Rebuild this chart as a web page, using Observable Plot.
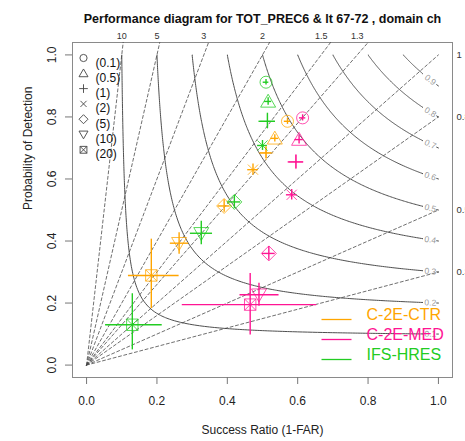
<!DOCTYPE html>
<html><head><meta charset="utf-8">
<script src="https://cdn.jsdelivr.net/npm/d3@7"></script>
<script src="https://cdn.jsdelivr.net/npm/@observablehq/plot@0.6"></script>
<style>body{margin:0;background:#fff} #chart svg{display:block;overflow:visible}</style>
</head><body><div id="chart"></div>
<script>
// ---- data ----
const title = "Performance diagram for TOT_PREC6 & lt 67-72 , domain ch";
const thresholds = ["0.1", "0.5", "1", "2", "5", "10", "20"];
const thresholdLabels = ["(0.1)", "(0.5)", "(1)", "(2)", "(5)", "(10)", "(20)"];
const models = ["C-2E-CTR", "C-2E-MED", "IFS-HRES"];
const modelColors = ["#ffa500", "#ff1493", "#22cc22"];

const ctrSR    = [0.571, 0.535, 0.510, 0.473, 0.391, 0.263, 0.184];
const ctrPOD   = [0.786, 0.731, 0.684, 0.630, 0.513, 0.393, 0.289];
const ctrSRlo  = [0.562, 0.524, 0.494, 0.458, 0.374, 0.238, 0.119];
const ctrSRhi  = [0.580, 0.546, 0.526, 0.488, 0.408, 0.290, 0.263];
const ctrPODlo = [0.776, 0.719, 0.666, 0.612, 0.493, 0.357, 0.182];
const ctrPODhi = [0.796, 0.743, 0.702, 0.648, 0.533, 0.427, 0.406];

const medSR    = [0.614, 0.604, 0.595, 0.583, 0.518, 0.490, 0.465];
const medPOD   = [0.797, 0.727, 0.655, 0.549, 0.360, 0.227, 0.195];
const medSRlo  = [0.605, 0.592, 0.573, 0.568, 0.500, 0.436, 0.272];
const medSRhi  = [0.623, 0.616, 0.617, 0.598, 0.536, 0.547, 0.654];
const medPODlo = [0.787, 0.713, 0.633, 0.532, 0.338, 0.190, 0.097];
const medPODhi = [0.807, 0.741, 0.677, 0.566, 0.382, 0.264, 0.295];

const ifsSR    = [0.510, 0.516, 0.514, 0.500, 0.420, 0.326, 0.130];
const ifsPOD   = [0.912, 0.850, 0.786, 0.708, 0.526, 0.425, 0.130];
const ifsSRlo  = [0.502, 0.506, 0.490, 0.486, 0.402, 0.295, 0.054];
const ifsSRhi  = [0.518, 0.526, 0.537, 0.514, 0.438, 0.358, 0.215];
const ifsPODlo = [0.903, 0.838, 0.763, 0.692, 0.505, 0.388, 0.049];
const ifsPODhi = [0.921, 0.862, 0.812, 0.724, 0.547, 0.464, 0.230];

const biasValues = [0.3, 0.5, 0.8, 1, 1.3, 1.5, 2, 3, 5, 10];
const biasTopLabels = [10, 5, 3, 2, 1.5, 1.3];
const biasRightLabels = ["1", "0.8", "0.5", "0.3"];
const csiLevels = [0.1, 0.2, 0.3, 0.4, 0.5, 0.6, 0.7, 0.8, 0.9];
const axisTicks = [0, 0.2, 0.4, 0.6, 0.8, 1];
const xLabel = "Success Ratio (1-FAR)";
const yLabel = "Probability of Detection";

// ---- symbols (R pch 1..7 look) ----
function sym(fn) { return {draw(c, size) { const r = Math.sqrt(size / Math.PI); fn(c, r); }}; }
const symCircle = sym((c, r) => { c.moveTo(r, 0); c.arc(0, 0, r, 0, 2 * Math.PI); });
const symTriUp = sym((c, r) => { c.moveTo(0, -1.2 * r); c.lineTo(1.25 * r, 0.95 * r); c.lineTo(-1.25 * r, 0.95 * r); c.closePath(); });
const symPlus = sym((c, r) => { c.moveTo(-1.2 * r, 0); c.lineTo(1.2 * r, 0); c.moveTo(0, -1.2 * r); c.lineTo(0, 1.2 * r); });
const symTimes = sym((c, r) => { const a = 0.85 * r; c.moveTo(-a, -a); c.lineTo(a, a); c.moveTo(-a, a); c.lineTo(a, -a); });
const symDiamond = sym((c, r) => { const a = 1.25 * r; c.moveTo(0, -a); c.lineTo(a, 0); c.lineTo(0, a); c.lineTo(-a, 0); c.closePath(); });
const symTriDown = sym((c, r) => { c.moveTo(0, 1.2 * r); c.lineTo(1.25 * r, -0.95 * r); c.lineTo(-1.25 * r, -0.95 * r); c.closePath(); });
const symSquareX = sym((c, r) => { const a = 0.95 * r; c.rect(-a, -a, 2 * a, 2 * a); c.moveTo(-a, -a); c.lineTo(a, a); c.moveTo(-a, a); c.lineTo(a, -a); });
const symbolRange = [symCircle, symTriUp, symPlus, symTimes, symDiamond, symTriDown, symSquareX];
const symLine = {draw(c) { c.moveTo(-15, 0); c.lineTo(15, 0); }};

// ---- tables ----
const series = [
  [ctrSR, ctrPOD, ctrSRlo, ctrSRhi, ctrPODlo, ctrPODhi],
  [medSR, medPOD, medSRlo, medSRhi, medPODlo, medPODhi],
  [ifsSR, ifsPOD, ifsSRlo, ifsSRhi, ifsPODlo, ifsPODhi]
];
const pts = [];
models.forEach((m, mi) => thresholds.forEach((t, ti) => {
  const s = series[mi];
  pts.push({model: m, thr: t, sr: s[0][ti], pod: s[1][ti], srLo: s[2][ti], srHi: s[3][ti], podLo: s[4][ti], podHi: s[5][ti]});
}));

const biasLines = biasValues.flatMap(b => [{b, sr: 0, pod: 0}, {b, sr: 1, pod: b}]);

const podOf = (c, sr) => 1 / (1 / c + 1 - 1 / sr);
const srOf = (c, pod) => 1 / (1 / c + 1 - 1 / pod);
const srGapStart = 0.956, srLabel = 0.977, srTailStart = 0.995;
const contours = [];
csiLevels.forEach(c => {
  const seg = [];
  const podEnd = podOf(c, srGapStart);
  for (let i = 0; i <= 120; i++) { const p = podEnd + (1 - podEnd) * i / 120; seg.push({sr: srOf(c, p), pod: p}); }
  for (let i = 0; i <= 120; i++) { const s = c + (srGapStart - c) * i / 120; seg.push({sr: s, pod: podOf(c, s)}); }
  seg.sort((a, b) => a.sr - b.sr);
  seg.forEach(d => contours.push({key: c + "a", ...d}));
  contours.push({key: c + "b", sr: srTailStart, pod: podOf(c, srTailStart)});
  contours.push({key: c + "b", sr: 1, pod: podOf(c, 1)});
});
const xPx = 380 / 1.08, yPx = 335 / 1.08;
const csiLabels = csiLevels.map(c => {
  const p = podOf(c, srLabel);
  const slope = (yPx / xPx) * (p / srLabel) ** 2;
  return {label: String(c), sr: srLabel, pod: p, angle: Math.atan(slope) * 180 / Math.PI};
});

const font = "Liberation Sans, Arial, Helvetica, sans-serif";

const marks = [
  Plot.frame({stroke: "#8a8a8a"}),
  Plot.line(biasLines, {x: "sr", y: "pod", z: "b", stroke: "#4a4a4a", strokeWidth: 0.8, strokeDasharray: "3,2.5", clip: true}),
  Plot.line(contours, {x: "sr", y: "pod", z: "key", stroke: "#444", strokeWidth: 0.95, clip: true}),
  Plot.text(csiLabels, {x: "sr", y: "pod", text: "label", rotate: "angle", fill: "#9a9a9a", fontSize: 8.5}),
  Plot.text(biasTopLabels, {x: b => 1 / b, frameAnchor: "top", dy: -10, text: d => String(d), fontSize: 9, fill: "#333"}),
  Plot.text(biasRightLabels, {y: d => +d, frameAnchor: "right", dx: 4, textAnchor: "start", text: d => d, fontSize: 9.5, fill: "#333"}),
  Plot.axisX({ticks: axisTicks, tickFormat: d3.format(".1f"), tickSize: 7, tickPadding: 12, label: null, fontSize: 12, stroke: "#777", fill: "#222"}),
  Plot.axisY({ticks: axisTicks, tickFormat: d3.format(".1f"), tickSize: 7, tickPadding: 10, tickRotate: -90, label: null, fontSize: 12, stroke: "#777", fill: "#222"}),
  Plot.text([xLabel], {frameAnchor: "bottom", dy: 56, text: d => d, fontSize: 12, fill: "#222"}),
  Plot.text([yLabel], {frameAnchor: "left", dx: -44, rotate: -90, text: d => d, fontSize: 12, fill: "#222"}),
  Plot.text([title], {frameAnchor: "top", dy: -28, text: d => d, fontSize: 12.5, fontWeight: "bold", fill: "#111"}),
  // error bars
  Plot.ruleY(pts, {y: "pod", x1: "srLo", x2: "srHi", stroke: "model", strokeWidth: 1.4}),
  Plot.ruleX(pts, {x: "sr", y1: "podLo", y2: "podHi", stroke: "model", strokeWidth: 1.4}),
  // symbols
  Plot.dot(pts, {x: "sr", y: "pod", symbol: "thr", stroke: "model", fill: "none", r: 6, strokeWidth: 1, strokeOpacity: 0.75}),
];
// threshold legend (top-left)
thresholds.forEach((t, i) => {
  marks.push(Plot.dot([t], {frameAnchor: "top-left", dx: 11, dy: 15.5 + i * 15.3, symbol: symbolRange[i], r: 3.6, stroke: "#444", fill: "none", strokeWidth: 0.9}));
  marks.push(Plot.text([thresholdLabels[i]], {frameAnchor: "top-left", dx: 23, dy: 15.5 + i * 15.3, textAnchor: "start", text: d => d, fontSize: 12, fill: "#111"}));
});
// model legend (bottom-right)
models.forEach((m, i) => {
  marks.push(Plot.dot([m], {frameAnchor: "bottom-right", dx: -116, dy: -58 + i * 20, symbol: symLine, r: 5, stroke: modelColors[i], strokeWidth: 1.3}));
  marks.push(Plot.text([m], {frameAnchor: "bottom-right", dx: -86, dy: -58 + i * 20, textAnchor: "start", text: d => d, fontSize: 16, fill: modelColors[i]}));
});

const chart = Plot.plot({
  width: 465, height: 441,
  marginLeft: 72, marginRight: 13, marginTop: 42, marginBottom: 64,
  x: {domain: [-0.04, 1.04]},
  y: {domain: [-0.04, 1.04]},
  color: {domain: models, range: modelColors},
  symbol: {domain: thresholds, range: symbolRange},
  style: {fontFamily: font, fontSize: "12px", background: "#fff"},
  marks
});
document.getElementById("chart").appendChild(chart);
</script>
</body></html>
